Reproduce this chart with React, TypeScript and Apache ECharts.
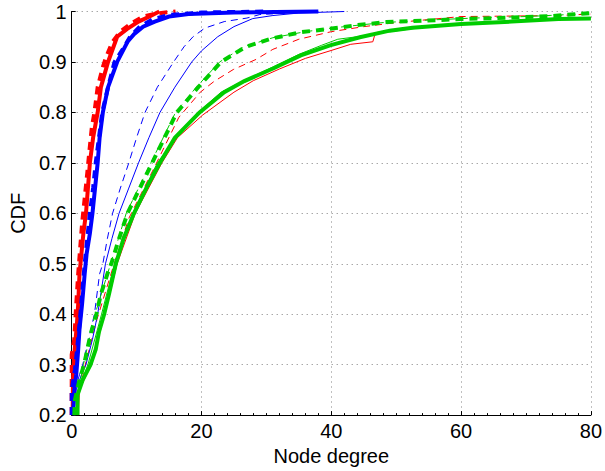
import React, { useEffect, useRef } from "react";
import * as echarts from "echarts";

// Axis ticks
const X_TICKS = [0, 20, 40, 60, 80];
const Y_TICKS = [0.2, 0.3, 0.4, 0.5, 0.6, 0.7, 0.8, 0.9, 1];

type Pt = [number, number];

// Empirical CDF curves of node degree: [degree, CDF]
const redThick: Pt[] = [
  [0.15, 0.2], [0.2, 0.27], [0.4, 0.32], [0.8, 0.38], [1.0, 0.42], [1.2, 0.48],
  [1.5, 0.52], [1.8, 0.56], [2.2, 0.6], [2.5, 0.65], [2.8, 0.7], [3.3, 0.75],
  [4.0, 0.8], [4.5, 0.85], [5.6, 0.9], [7.0, 0.95], [8.5, 0.965], [10.3, 0.98],
  [12.0, 0.99], [13.5, 1],
];
const redThickDashed: Pt[] = [
  [0, 0.2], [0, 0.32], [0.4, 0.35], [0.7, 0.42], [1.0, 0.48], [1.3, 0.53],
  [1.6, 0.58], [2.0, 0.63], [2.4, 0.68], [2.7, 0.72], [3.1, 0.77], [3.5, 0.8],
  [4.0, 0.85], [4.8, 0.89], [5.3, 0.91], [6.3, 0.94], [7.5, 0.96], [9.0, 0.975],
  [11.0, 0.99], [13.0, 0.996], [16.0, 1],
];
const redThin: Pt[] = [
  [1.0, 0.2], [1.2, 0.25], [3.0, 0.3], [5.1, 0.4], [7.0, 0.5], [9.8, 0.6],
  [13.9, 0.7], [16.3, 0.75], [20.2, 0.795], [25.0, 0.84], [28.0, 0.863],
  [32.0, 0.886], [36.0, 0.907], [39.8, 0.922], [43.0, 0.935], [46.4, 0.94],
  [46.8, 0.958], [52.0, 0.968], [60.0, 0.974], [68.0, 0.98], [75.0, 0.984],
  [80.0, 0.987],
];
const redThinDashed: Pt[] = [
  [0.5, 0.2], [1.9, 0.29], [3.9, 0.39], [6.3, 0.49], [8.8, 0.59], [12.7, 0.69],
  [16.5, 0.79], [19.8, 0.84], [22.0, 0.862], [24.9, 0.885], [28.4, 0.905],
  [31.0, 0.925], [35.0, 0.945], [40.0, 0.96], [45.0, 0.97], [50.0, 0.978],
  [55.0, 0.984], [60.0, 0.99], [68.0, 0.991], [75.0, 0.992], [80.0, 0.995],
];

const blueThick: Pt[] = [
  [0.2, 0.2], [0.4, 0.25], [0.7, 0.28], [1.0, 0.33], [1.2, 0.37], [1.6, 0.42],
  [2.0, 0.48], [2.3, 0.52], [2.8, 0.56], [3.2, 0.6], [3.6, 0.65], [4.0, 0.7],
  [4.3, 0.75], [4.8, 0.8], [5.6, 0.85], [7.0, 0.9], [8.6, 0.94], [9.6, 0.955],
  [11.0, 0.97], [12.8, 0.98], [15.0, 0.99], [18.0, 0.995], [25.0, 0.998], [38.0, 1],
];
const blueThickDashed: Pt[] = [
  [0, 0.2], [0, 0.25], [0.5, 0.29], [0.9, 0.34], [1.2, 0.38], [1.6, 0.44],
  [2.0, 0.5], [2.4, 0.55], [2.8, 0.6], [3.3, 0.65], [3.7, 0.7], [4.2, 0.75],
  [4.7, 0.8], [5.6, 0.85], [6.6, 0.9], [8.1, 0.93], [9.0, 0.95], [10.5, 0.97],
  [12.5, 0.985], [15.0, 0.993], [20.0, 0.998], [30.0, 1],
];
const blueThin: Pt[] = [
  [0.3, 0.2], [0.7, 0.25], [1.5, 0.28], [2.2, 0.3], [3.2, 0.35], [4.0, 0.4],
  [4.6, 0.45], [5.2, 0.5], [6.2, 0.55], [7.3, 0.6], [8.8, 0.65], [10.3, 0.7],
  [11.9, 0.75], [13.6, 0.8], [15.9, 0.85], [18.5, 0.9], [20.0, 0.922],
  [22.5, 0.95], [25.0, 0.97], [27.9, 0.986], [31.0, 0.992], [35.0, 0.997], [42.0, 1],
];
const blueThinDashed: Pt[] = [
  [0, 0.2], [0.5, 0.25], [1.2, 0.28], [1.7, 0.3], [2.6, 0.35], [3.5, 0.4],
  [4.3, 0.48], [4.8, 0.5], [5.5, 0.55], [6.3, 0.6], [7.5, 0.65], [8.8, 0.7],
  [10.0, 0.75], [11.3, 0.8], [13.2, 0.85], [15.7, 0.9], [17.3, 0.93],
  [18.7, 0.95], [20.5, 0.967], [23.5, 0.98], [27.0, 0.987], [29.0, 0.994],
  [35.0, 0.998], [38.0, 1],
];

const greenThick: Pt[] = [
  [0.9, 0.2], [0.9, 0.24], [1.7, 0.27], [2.9, 0.3], [3.7, 0.33], [4.2, 0.365],
  [5.0, 0.4], [5.75, 0.44], [6.8, 0.5], [8.0, 0.55], [9.6, 0.6], [11.5, 0.65],
  [13.6, 0.7], [15.9, 0.75], [19.7, 0.8], [23.5, 0.84], [26.6, 0.862],
  [31.2, 0.888], [35.3, 0.913], [39.8, 0.933], [44.4, 0.949], [49.0, 0.962],
  [52.5, 0.968], [60.0, 0.975], [67.8, 0.98], [75.0, 0.985], [80.0, 0.986],
];
const greenThickDashed: Pt[] = [
  [0.4, 0.2], [0.5, 0.23], [1.2, 0.27], [1.9, 0.3], [2.9, 0.36], [3.8, 0.4],
  [4.5, 0.44], [5.5, 0.48], [6.1, 0.5], [7.3, 0.55], [8.6, 0.6], [10.5, 0.65],
  [12.4, 0.7], [14.3, 0.75], [16.2, 0.8], [19.5, 0.85], [23.0, 0.9],
  [26.8, 0.93], [30.7, 0.946], [35.3, 0.959], [39.4, 0.965], [44.0, 0.973],
  [48.5, 0.979], [52.5, 0.981], [60.0, 0.985], [68.0, 0.988], [74.0, 0.991],
  [80.0, 0.997],
];
const greenThin: Pt[] = [
  [0.9, 0.2], [1.0, 0.25], [2.5, 0.3], [4.6, 0.4], [6.6, 0.5], [9.4, 0.6],
  [13.2, 0.7], [15.5, 0.74], [17.0, 0.76], [19.5, 0.8], [23.0, 0.84],
  [27.0, 0.866], [31.0, 0.89], [35.0, 0.915], [38.5, 0.933], [41.0, 0.945],
  [44.0, 0.95], [49.0, 0.96], [55.0, 0.97], [62.0, 0.977], [70.0, 0.982],
  [80.0, 0.988],
];
const greenThinDashed: Pt[] = [
  [0.4, 0.2], [1.8, 0.3], [3.6, 0.4], [6.0, 0.5], [8.4, 0.6], [12.2, 0.7],
  [16.0, 0.8], [19.2, 0.85], [22.8, 0.9], [26.5, 0.93], [31.0, 0.948],
  [36.0, 0.96], [42.0, 0.97], [48.0, 0.978], [55.0, 0.983], [62.0, 0.987],
  [70.0, 0.99], [80.0, 0.996],
];

const RED = "#ff0000";
const BLUE = "#0000ff";
const GREEN = "#00cc00";
const FONT = '"Liberation Sans", Arial, Helvetica, sans-serif';

const THICK = 4;
const THIN = 1;
const THICK_DASH = [8, 6];
const THIN_DASH = [7, 5];

type Curve = { name: string; data: Pt[]; color: string; width: number; dash?: number[] };

// Drawing order: red first, then blue, green on top
const curves: Curve[] = [
  { name: "red thin dashed", data: redThinDashed, color: RED, width: THIN, dash: THIN_DASH },
  { name: "red thin", data: redThin, color: RED, width: THIN },
  { name: "red thick", data: redThick, color: RED, width: THICK },
  { name: "red thick dashed", data: redThickDashed, color: RED, width: THICK, dash: THICK_DASH },
  { name: "blue thin dashed", data: blueThinDashed, color: BLUE, width: THIN, dash: THIN_DASH },
  { name: "blue thin", data: blueThin, color: BLUE, width: THIN },
  { name: "blue thick", data: blueThick, color: BLUE, width: THICK },
  { name: "blue thick dashed", data: blueThickDashed, color: BLUE, width: THICK, dash: THICK_DASH },
  { name: "green thin dashed", data: greenThinDashed, color: GREEN, width: THIN, dash: THIN_DASH },
  { name: "green thin", data: greenThin, color: GREEN, width: THIN },
  { name: "green thick", data: greenThick, color: GREEN, width: THICK },
  { name: "green thick dashed", data: greenThickDashed, color: GREEN, width: THICK, dash: THICK_DASH },
];

const gridDots = { color: "#808080", width: 1, type: [1, 4] as number[] };

export default function App() {
  const ref = useRef<HTMLDivElement>(null);

  useEffect(() => {
    if (!ref.current) return;
    const chart = echarts.init(ref.current, undefined, { renderer: "svg" });
    chart.setOption({
      animation: false,
      backgroundColor: "#ffffff",
      grid: { left: 69, right: 13, top: 11.5, bottom: 46, containLabel: false },
      xAxis: {
        type: "value",
        min: X_TICKS[0],
        max: X_TICKS[X_TICKS.length - 1],
        interval: X_TICKS[1] - X_TICKS[0],
        name: "Node degree",
        nameLocation: "middle",
        nameGap: 29,
        nameTextStyle: { color: "#000", fontSize: 20, fontFamily: FONT },
        axisLine: { show: true, onZero: false, lineStyle: { color: "#000", width: 1 } },
        axisTick: { show: true, inside: true, length: 4, lineStyle: { color: "#000" } },
        minorTick: { show: true, splitNumber: 10, length: 2, lineStyle: { color: "#000" } },
        axisLabel: { color: "#000", fontSize: 20, fontFamily: FONT, margin: 6 },
        splitLine: { show: true, lineStyle: gridDots },
      },
      yAxis: {
        type: "value",
        min: Y_TICKS[0],
        max: Y_TICKS[Y_TICKS.length - 1],
        interval: 0.1,
        name: "CDF",
        nameLocation: "middle",
        nameRotate: 90,
        nameGap: 39,
        nameTextStyle: { color: "#000", fontSize: 20, fontFamily: FONT },
        axisLine: { show: true, onZero: false, lineStyle: { color: "#000", width: 1 } },
        axisTick: { show: true, inside: true, length: 4, lineStyle: { color: "#000" } },
        axisLabel: {
          color: "#000",
          fontSize: 20,
          fontFamily: FONT,
          margin: 5,
          formatter: (v: number) => (Math.abs(v - 1) < 1e-9 ? "1" : v.toFixed(1)),
        },
        splitLine: { show: true, lineStyle: gridDots },
      },
      series: curves.map((c, i) => ({
        name: c.name,
        type: "line",
        data: c.data,
        showSymbol: false,
        symbol: "none",
        clip: false,
        z: 2 + i * 0.01,
        lineStyle: {
          color: c.color,
          width: c.width,
          type: c.dash ?? "solid",
          cap: "butt",
          join: "miter",
        },
      })),
    });
    return () => chart.dispose();
  }, []);

  // Pinned to the viewport corner so the body margin does not shift the chart
  return (
    <div
      ref={ref}
      style={{ position: "fixed", left: 0, top: 0, width: 605, height: 471 }}
    />
  );
}
